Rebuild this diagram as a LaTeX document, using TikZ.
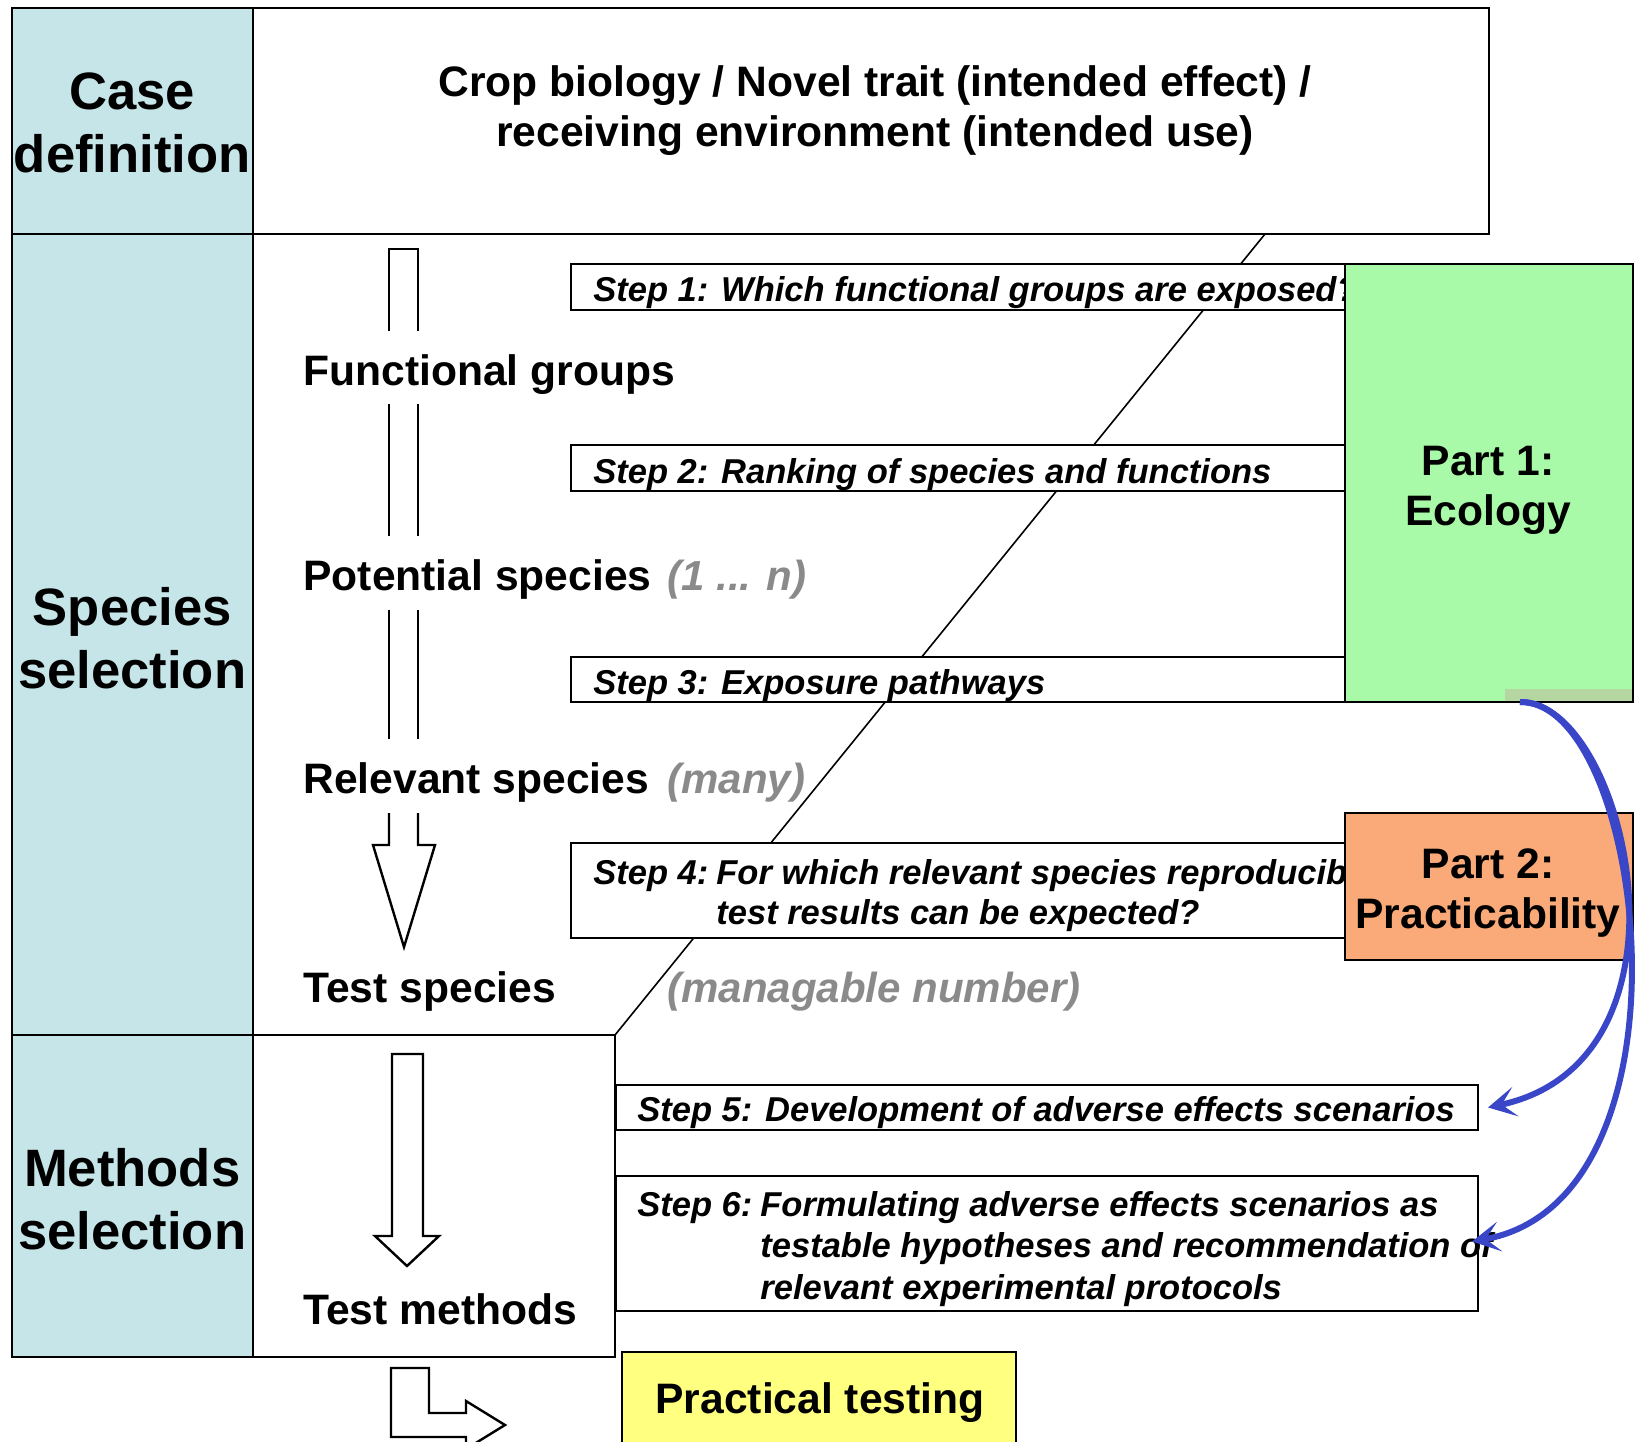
\documentclass[tikz,border=0pt]{standalone}
\usepackage{fontspec}
\setmainfont{Liberation Sans}
\usetikzlibrary{arrows.meta}
\definecolor{colbg}{RGB}{198,229,232}
\definecolor{greenbox}{RGB}{168,250,168}
\definecolor{greenshade}{RGB}{181,214,160}
\definecolor{orangebox}{RGB}{249,170,120}
\definecolor{yellowbox}{RGB}{255,255,128}
\definecolor{arrowblue}{RGB}{58,70,200}
\definecolor{graytxt}{RGB}{138,138,138}
\begin{document}
\begin{tikzpicture}[x=0.5pt,y=-0.5pt,
  box/.style={draw=black, line width=1pt, inner sep=0pt, outer sep=0pt},
  colbox/.style={box, fill=colbg},
  coltxt/.style={font=\fontsize{26.3}{31.3}\selectfont\bfseries, align=center, inner sep=0pt},
  stepbox/.style={box, fill=white},
  maintxt/.style={font=\fontsize{21.3}{25}\selectfont\bfseries, inner sep=0pt},
  steptxt/.style={font=\fontsize{17.25}{20}\selectfont\bfseries\itshape, inner sep=0pt, anchor=base west},
  graylbl/.style={font=\fontsize{21}{25}\selectfont\bfseries\itshape, text=graytxt, inner sep=0pt, anchor=base west},
  hollow/.style={draw=black, line width=1.2pt, line join=miter, fill=white},
  bluearrow/.style={draw=arrowblue, line width=3pt, -{Stealth[length=14pt,width=15pt,inset=7pt]}},
]
\useasboundingbox (0,0) rectangle (1635,1442);
\clip (0,0) rectangle (1635,1442);

% left column
\node[colbox, minimum width=120.75pt, minimum height=113pt] (colcase) at (132.25,121) {};
\node[coltxt] (tcase) at (132.25,123) {Case\\definition};
\node[colbox, minimum width=120.75pt, minimum height=400.5pt] (colspec) at (132.25,634.5) {};
\node[coltxt] (tspec) at (132.25,638) {Species\\selection};
\node[colbox, minimum width=120.75pt, minimum height=161pt] (colmeth) at (132.25,1196) {};
\node[coltxt] (tmeth) at (132.25,1199) {Methods\\selection};

% top box
\node[box, fill=white, minimum width=618pt, minimum height=113pt] (topbox) at (871,121) {};
\node[maintxt, align=center] (toptxt) at (875,111) {Crop biology / Novel trait (intended effect) /\\receiving environment (intended use)};

% methods box
\node[box, fill=white, minimum width=181pt, minimum height=161pt] (methbox) at (434,1196) {};

% diagonal
\coordinate (dtop) at (1265,234);
\draw[line width=0.8pt] (dtop) -- (methbox.north east);

% step boxes
\node[stepbox, minimum width=387pt, minimum height=23pt] (s1) at (958,287) {};
\node[stepbox, minimum width=387pt, minimum height=23pt] (s2) at (958,468) {};
\node[stepbox, minimum width=387pt, minimum height=22.5pt] (s3) at (958,679.5) {};
\node[stepbox, minimum width=387pt, minimum height=47.5pt] (s4) at (958,890.5) {};
\node[stepbox, minimum width=431pt, minimum height=22.5pt] (s5) at (1047,1107.5) {};
\node[stepbox, minimum width=431pt, minimum height=67.5pt] (s6) at (1047,1243.5) {};

\node[steptxt] (t1) at (593,301) {Step 1: Which functional groups are exposed?};
\node[steptxt] (t2) at (593,483) {Step 2: Ranking of species and functions};
\node[steptxt] (t3) at (593,694) {Step 3: Exposure pathways};
\node[steptxt] (t4) at (593,884) {\begin{tabular}[t]{@{}l@{\hspace{4pt}}l@{}}Step 4:&For which relevant species reproducible\\&test results can be expected?\end{tabular}};
\node[steptxt] (t5) at (637,1121) {Step 5: Development of adverse effects scenarios};
\node[steptxt, font=\fontsize{17.25}{20.75}\selectfont\bfseries\itshape] (t6) at (637,1216) {\begin{tabular}[t]{@{}l@{\hspace{4pt}}l@{}}Step 6:&Formulating adverse effects scenarios as\\&testable hypotheses and recommendation of\\&relevant experimental protocols\end{tabular}};

% part boxes
\node[box, fill=greenbox, minimum width=144pt, minimum height=219pt] (green) at (1489,483) {};
\fill[greenshade] (1505,689) rectangle (1632,701);
\node[maintxt, align=center] (greentxt) at (1488,490) {Part 1:\\Ecology};
\node[box, fill=orangebox, minimum width=144pt, minimum height=73.5pt] (orange) at (1489,886.5) {};
\node[maintxt, align=center] (orangetxt) at (1488,893.5) {Part 2:\\Practicability};

% hollow arrows
\draw[hollow, fill=none] (389,331) -- (389,249) -- (418,249) -- (418,331);
\draw[hollow] (389,404) -- (389,536) (418,404) -- (418,536);
\draw[hollow] (389,610) -- (389,739) (418,610) -- (418,739);
\draw[hollow] (389,813) -- (389,845) -- (373,845) -- (404,947) -- (435,845) -- (418,845) -- (418,813);
\draw[hollow] (392,1054) -- (392,1236) -- (375,1236) -- (407,1266) -- (439,1236) -- (423,1236) -- (423,1054) -- cycle;
\draw[hollow] (391,1368) -- (429,1368) -- (429,1413) -- (466,1413) -- (466,1401) -- (505,1425) -- (466,1449) -- (466,1437) -- (391,1437) -- cycle;

% labels
\node[maintxt, anchor=base west] (fg) at (303,385) {Functional groups};
\node[maintxt, anchor=base west] (ps) at (303,590) {Potential species};
\node[graylbl] (psg) at (667,590) {(1 ... n)};
\node[maintxt, anchor=base west] (rs) at (303,793) {Relevant species};
\node[graylbl] (rsg) at (667,793) {(many)};
\node[maintxt, anchor=base west] (ts) at (303,1002) {Test species};
\node[graylbl] (tsg) at (667,1002) {(managable number)};
\node[maintxt, anchor=base west] (tm) at (303,1324) {Test methods};

% practical testing
\node[box, fill=yellowbox, minimum width=197pt, minimum height=54pt] (yellow) at (819,1406) {};
\node[maintxt] (yellowtxt) at (820,1403) {Practical testing};

% blue arrows
\coordinate (bstart) at ([xshift=15.5pt]green.south);
\coordinate (e5) at ([xshift=5pt]s5.east);
\coordinate (e6) at ([xshift=-3pt,yshift=1pt]s6.east);
\draw[bluearrow] (bstart) .. controls (1625,700) and (1710,1060) .. (e5);
\draw[bluearrow] (bstart) .. controls (1645,700) and (1705,1200) .. (e6);
\end{tikzpicture}
\end{document}
